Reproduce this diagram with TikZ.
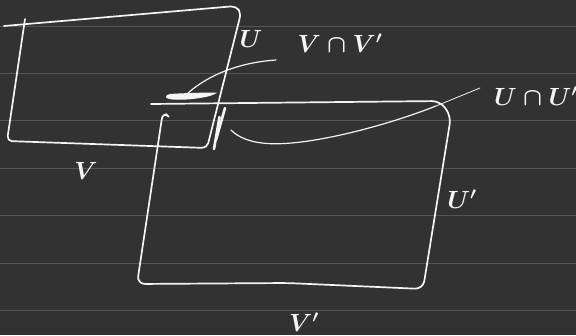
\documentclass[tikz,border=0pt]{standalone}
\usepackage{amsmath}
\usepackage{xcolor}
\definecolor{slate}{HTML}{323232}
\definecolor{rule}{HTML}{555555}
\definecolor{chalk}{HTML}{F4F4F4}

\begin{document}
\begin{tikzpicture}[
  x=1pt,
  y=-1pt,
  every node/.style={chalk, font=\fontsize{26}{30}\selectfont\boldmath, inner sep=0pt},
  ruling/.style={rule, line width=1pt},
  pen/.style={chalk, line width=1.7pt, line cap=round, line join=round, rounded corners=5pt},
  lead/.style={chalk, line width=1.2pt, line cap=round},
  hatch/.style={chalk, line width=2.6pt, line cap=round}
]

  % ---- page and ruled lines --------------------------------------------
  \fill[slate] (0,0) rectangle (576,335);
  \useasboundingbox (0,0) rectangle (576,335);
  \foreach \r in {26,73.4,120.8,168.2,215.6,263,310.4}
    \draw[ruling] (0,\r) -- (576,\r);

  % ---- the chart V (upper left) ----------------------------------------
  \draw[pen] (4,26) -- (236,6) -- (241,13) -- (207,148) -- (7,141) -- (25,19);

  % ---- the chart V' (lower right) --------------------------------------
  \draw[pen, rounded corners=8pt] (151,104) -- (440,101) -- (451,116)
    -- (423,289) -- (287,283) -- (137,284) -- (163,111) -- (166,114);

  % ---- the overlap marks -----------------------------------------------
  \fill[chalk] (166,97) .. controls (166,100.5) and (185,100.5) .. (200,98)
    .. controls (210,96.5) and (216,94) .. (217,92.5)
    .. controls (205,92.5) and (185,93) .. (170,94)
    .. controls (167,94.5) and (166,95.5) .. (166,97) -- cycle;
  \draw[hatch] (225,108) -- (216,140);
  \draw[hatch] (219.5,117) -- (214,149);

  % ---- labels ----------------------------------------------------------
  \node (lblU)  at (251,39)  {$U$};
  \node (lblVV) at (340,43)  {$V\cap V'$};
  \node (lblUU) at (536,96)  {$U\cap U'$};
  \node (lblV)  at (86,171)  {$V$};
  \node (lblUp) at (462,199) {$U'$};
  \node (lblVp) at (304,322) {$V'$};

  % ---- leaders from the two intersections ------------------------------
  \coordinate (vvmark) at (188,93);
  \coordinate (vvtail) at (276,60);
  \coordinate (uutail) at (480,88);
  \coordinate (uumark) at (231,130);
  \draw[lead] (vvmark) .. controls (212,72) and (245,62) .. (vvtail);
  \draw[lead, line width=0.8pt] (uutail) -- (436,106);
  \draw[lead] (436,106) .. controls (380,128) and (300,148) .. (262,143)
    .. controls (245,141) and (236,135) .. (uumark);

\end{tikzpicture}
\end{document}
